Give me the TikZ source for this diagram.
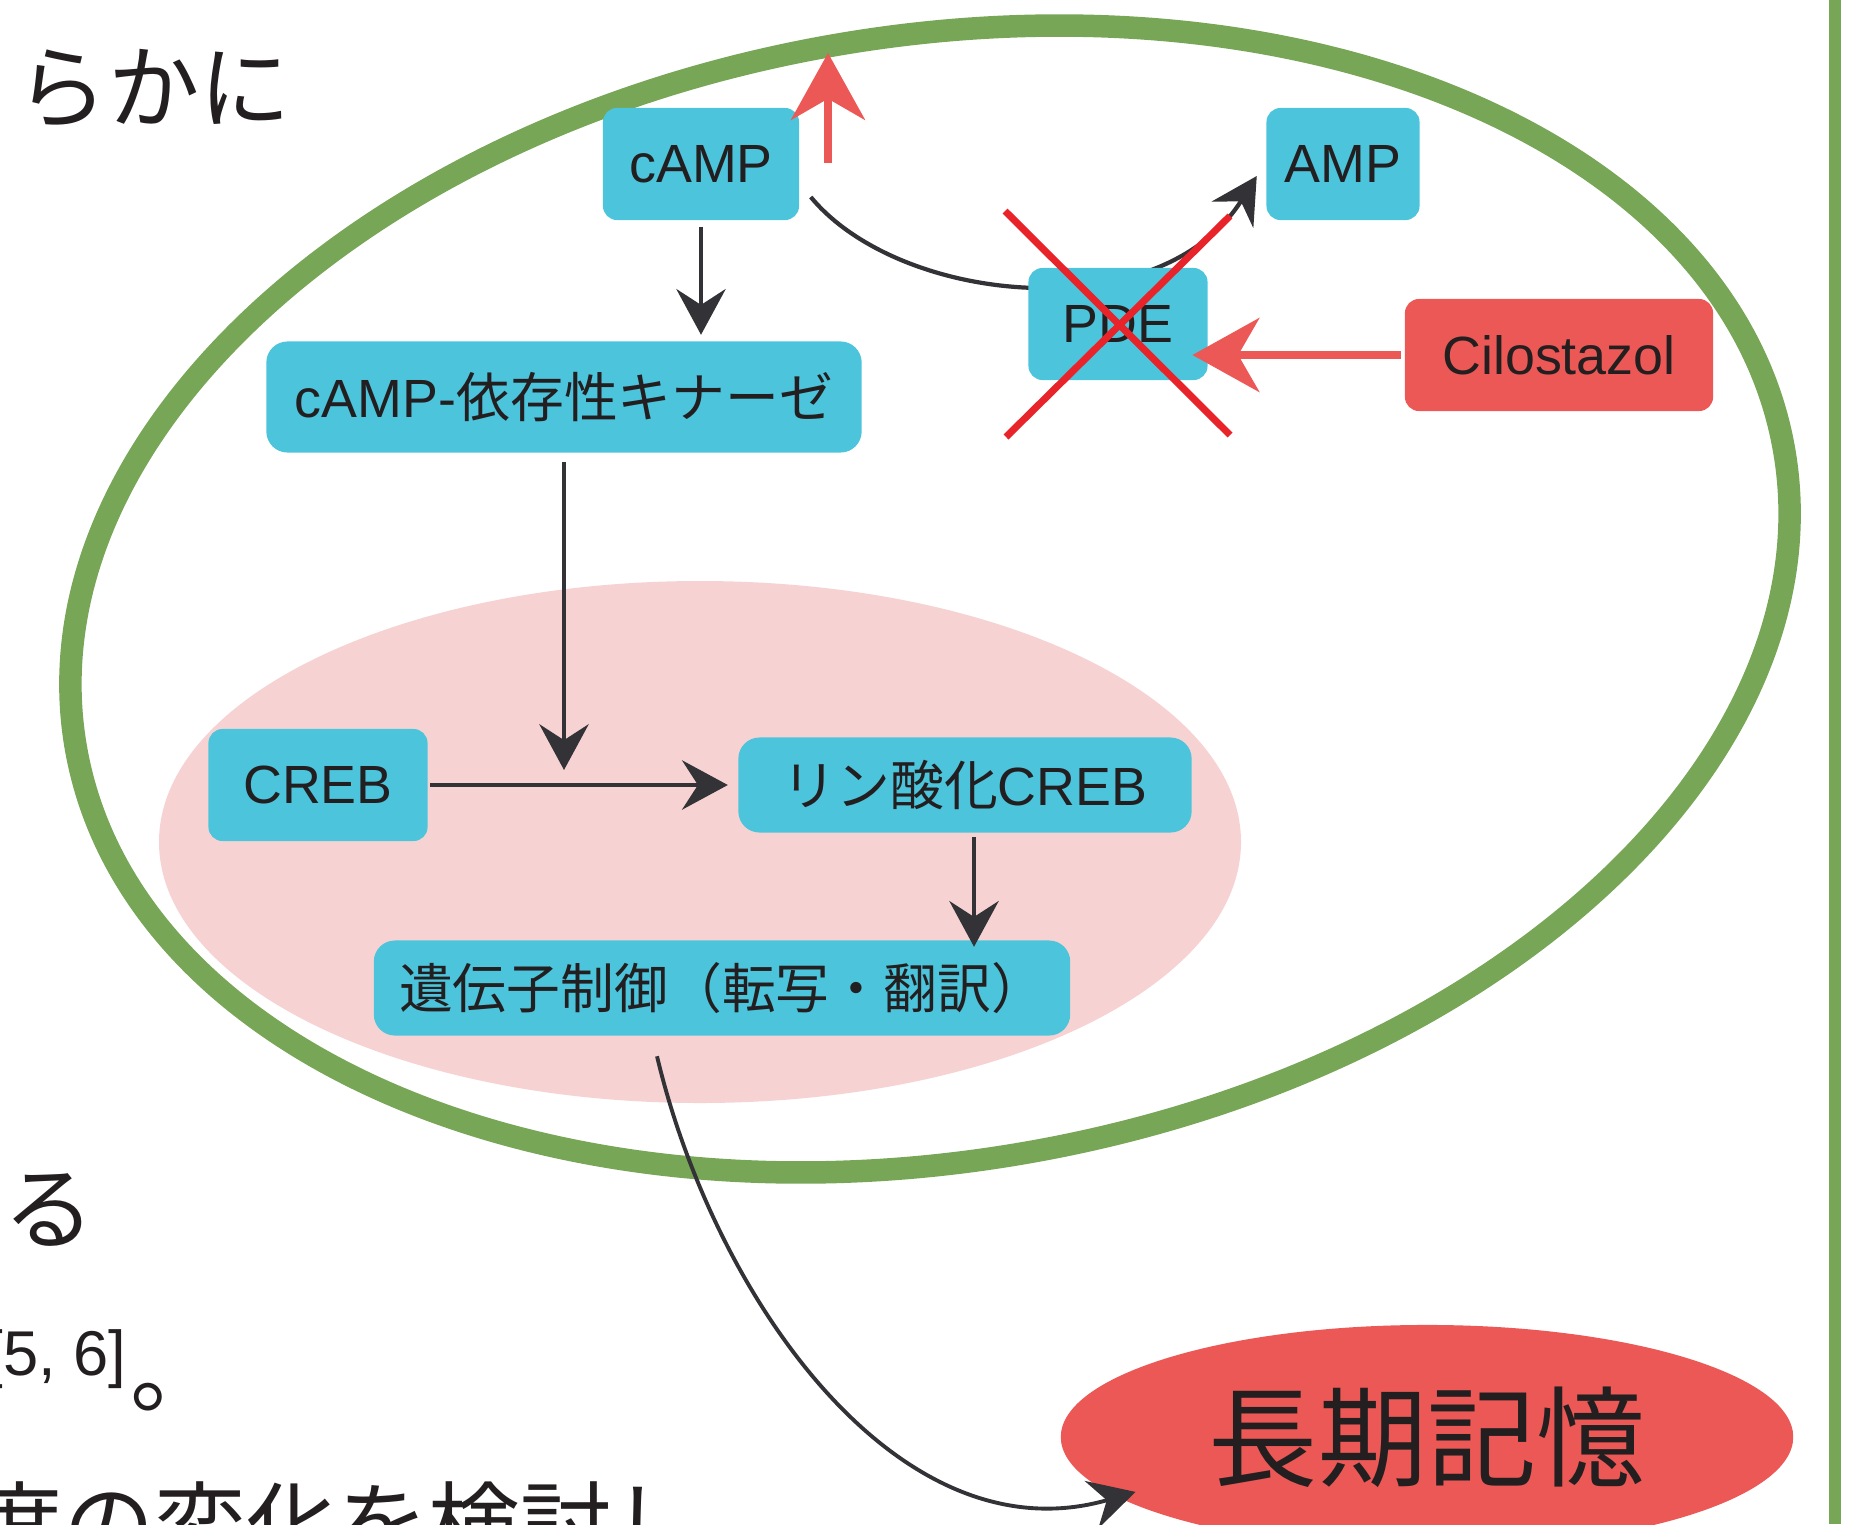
\documentclass[tikz,border=0pt]{standalone}
\usepackage{fontspec}
\setmainfont{Liberation Sans}
\newfontfamily\jp{Noto Sans CJK JP}
\usetikzlibrary{arrows.meta,shapes.geometric}
\definecolor{boxcyan}{HTML}{4BC4DC}
\definecolor{boxred}{HTML}{EC5855}
\definecolor{softpink}{HTML}{F6D3D2}
\definecolor{cellgreen}{HTML}{77A657}
\definecolor{arrowgray}{HTML}{333237}
\definecolor{crossred}{HTML}{E8242A}
\definecolor{ink}{HTML}{231F20}
\tikzset{
	box/.style={fill=boxcyan, rounded corners=4pt, inner sep=0pt, minimum height=1.12cm, text=ink, font=\fontsize{15.3}{18}\selectfont},
	widebox/.style={box, rounded corners=6pt, minimum height=0.95cm},
	drug/.style={box, fill=boxred},
	link/.style={draw=arrowgray, line width=1.3pt, -{Stealth[length=13pt,width=14pt,inset=4.5pt]}},
	boost/.style={draw=boxred, line width=2.3pt, -{Stealth[length=19pt,width=21pt,inset=6pt]}},
	cross/.style={draw=crossred, line width=2pt},
	body/.style={anchor=base west, inner sep=0pt, text=ink, font=\jp\fontsize{26}{30}\selectfont}
}
\begin{document}
\begin{tikzpicture}[x=0.01cm, y=-0.01cm]
			\useasboundingbox (0,0) rectangle (1849,1524);
			\fill[softpink] (700,842) ellipse [x radius=541, y radius=261];
			\draw[cellgreen, line width=6.4pt, rotate around={9.9:(930,599)}] (930,599) ellipse [x radius=867, y radius=562];
			\draw[cellgreen, line width=3.4pt] (1835,0) -- (1835,1524);

			\node[body] (line1) at (16,121) {らかに};
			\node[body] (line2) at (3,1242) {る};
			\node[anchor=base west, inner sep=0pt, text=ink, font=\fontsize{18}{20}\selectfont] (cite) at (-15,1375) {[5, 6]};
			\node[body] (stop) at (130,1405) {。};
			\node[body] (line3) at (-29,1558) {度の変化を検討し};

			\node[box, minimum width=1.96cm] (camp) at (701,164) {cAMP};
			\node[box, minimum width=1.53cm] (amp) at (1343,164) {AMP};
			\draw[link, line width=1.2pt] ([shift={(11,33)}]camp.east) .. controls (900,305) and (1160,330) .. ([shift={(-9,12)}]amp.west);
			\node[box, minimum width=1.79cm] (pde) at (1118,324) {PDE};
			\node[drug, minimum width=3.08cm] (cilo) at (1559,355) {Cilostazol};
			\node[box, rounded corners=6pt, minimum width=5.95cm, minimum height=1.11cm] (pka) at (564,397) {cAMP-{\jp 依存性キナーゼ}};
			\node[box, minimum width=2.19cm] (creb) at (318,785) {CREB};
			\node[widebox, minimum width=4.53cm] (pcreb) at (965,785) {{\jp リン酸化}CREB};
			\node[widebox, minimum width=6.96cm] (gene) at (722,988) {\jp 遺伝子制御（転写・翻訳）};
			\node[ellipse, fill=boxred, inner sep=0pt, minimum width=7.32cm, minimum height=2.24cm, text=ink, font=\jp\fontsize{31}{34}\selectfont] (memory) at (1427,1437) {長期記憶};

			\coordinate (join) at (564,770);
			\coordinate (rise0) at (828,163);
			\coordinate (rise1) at (828,53);
			\draw[link, shorten <=1.7pt, shorten >=1.7pt] (camp.south) -- (camp.south |- pka.north);
			\draw[link, shorten <=2.5pt] (pka.south) -- (join);
			\draw[link, shorten <=0.5pt, shorten >=2.8pt] (creb) -- (pcreb);
			\draw[link, shorten <=1pt, shorten >=-2pt] ([xshift=0.09cm]pcreb.south) -- ([xshift=0.09cm]pcreb.south |- gene.north);
			\draw[link, line width=1.1pt, shorten >=-5.5pt] ([shift={(-65,20)}]gene.south) .. controls (715,1300) and (900,1560) .. (memory.191);
			\draw[boost] (rise0) -- (rise1);
			\draw[boost, shorten <=1pt, shorten >=-4.5pt] (cilo.west) -- (cilo.west -| pde.east);
			\draw[cross] ([shift={(-113,-113)}]pde.center) -- ([shift={(112,111)}]pde.center);
			\draw[cross] ([shift={(-112,113)}]pde.center) -- ([shift={(112,-108)}]pde.center);

		\end{tikzpicture}
\end{document}
